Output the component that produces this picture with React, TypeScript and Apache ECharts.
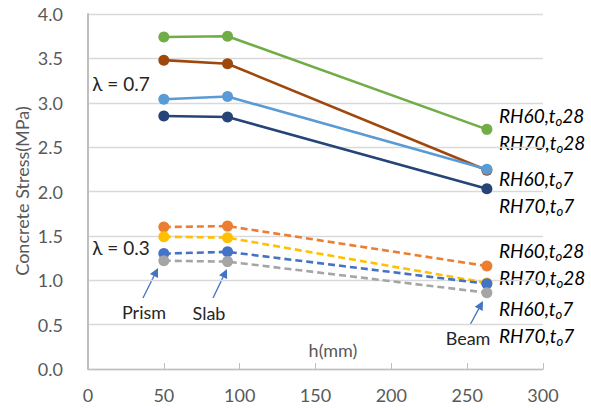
import React, { useEffect, useRef } from "react";
import * as echarts from "echarts";

const heights = [50, 92, 263];
const xTicks = { min: 0, max: 300, interval: 50 };
const yTicks = { min: 0, max: 4, interval: 0.5 };

const s07_RH60_28 = [3.74, 3.75, 2.7];
const s07_RH70_28 = [3.48, 3.44, 2.24];
const s07_RH60_7 = [3.04, 3.07, 2.25];
const s07_RH70_7 = [2.85, 2.84, 2.03];
const s03_RH60_28 = [1.6, 1.61, 1.16];
const s03_RH70_28 = [1.49, 1.48, 0.97];
const s03_RH60_7 = [1.3, 1.32, 0.96];
const s03_RH70_7 = [1.22, 1.21, 0.86];

const FONT = "Lato, 'Open Sans', sans-serif";

const seriesDefs = [
  { name: "λ0.7 RH60 t28", data: s07_RH60_28, color: "#70AD47", dashed: false },
  { name: "λ0.7 RH70 t28", data: s07_RH70_28, color: "#9E480E", dashed: false },
  { name: "λ0.7 RH60 t7", data: s07_RH60_7, color: "#5B9BD5", dashed: false },
  { name: "λ0.7 RH70 t7", data: s07_RH70_7, color: "#264478", dashed: false },
  { name: "λ0.3 RH60 t28", data: s03_RH60_28, color: "#ED7D31", dashed: true },
  { name: "λ0.3 RH70 t28", data: s03_RH70_28, color: "#FFC000", dashed: true },
  { name: "λ0.3 RH60 t7", data: s03_RH60_7, color: "#4472C4", dashed: true },
  { name: "λ0.3 RH70 t7", data: s03_RH70_7, color: "#A5A5A5", dashed: true },
];

const rightLabels = [
  { rh: "RH60", t: "28", y: 115 },
  { rh: "RH70", t: "28", y: 142 },
  { rh: "RH60", t: "7", y: 178 },
  { rh: "RH70", t: "7", y: 205 },
  { rh: "RH60", t: "28", y: 250 },
  { rh: "RH70", t: "28", y: 277 },
  { rh: "RH60", t: "7", y: 308 },
  { rh: "RH70", t: "7", y: 335 },
];

function arrow(x1: number, y1: number, x2: number, y2: number) {
  const dx = x2 - x1;
  const dy = y2 - y1;
  const len = Math.sqrt(dx * dx + dy * dy);
  const ux = dx / len;
  const uy = dy / len;
  const hl = 9;
  const hw = 4.5;
  const bx = x2 - ux * hl;
  const by = y2 - uy * hl;
  return [
    {
      type: "line",
      shape: { x1, y1, x2: bx, y2: by },
      style: { stroke: "#4472C4", lineWidth: 1.3 },
    },
    {
      type: "polygon",
      shape: {
        points: [
          [x2, y2],
          [bx - uy * hw, by + ux * hw],
          [bx + uy * hw, by - ux * hw],
        ],
      },
      style: { fill: "#4472C4" },
    },
  ];
}

export default function App() {
  const ref = useRef<HTMLDivElement>(null);
  useEffect(() => {
    if (!ref.current) return;
    const chart = echarts.init(ref.current, null, { renderer: "svg" });
    const textStyle = (text: string, x: number, y: number, size = 18) => ({
      type: "text",
      x,
      y,
      style: {
        text,
        fontFamily: FONT,
        fontSize: size,
        fill: "#262626",
        align: "center",
        verticalAlign: "middle",
      },
    });
    const graphics: any[] = [
      {
        type: "text",
        x: 22,
        y: 191,
        rotation: Math.PI / 2,
        style: {
          text: "Concrete Stress(MPa)",
          fontFamily: FONT,
          fontSize: 18,
          fill: "#595959",
          align: "center",
          verticalAlign: "middle",
        },
      },
      {
        type: "text",
        x: 333,
        y: 350,
        style: {
          text: "h(mm)",
          fontFamily: FONT,
          fontSize: 18,
          fill: "#595959",
          align: "center",
          verticalAlign: "middle",
        },
      },
      textStyle("λ = 0.7", 121, 83, 19),
      textStyle("λ = 0.3", 121, 247, 19),
      textStyle("Prism", 144, 312),
      textStyle("Slab", 209, 313),
      textStyle("Beam", 468, 338),
      ...arrow(143, 298, 158, 268),
      ...arrow(213, 298, 227, 269),
      ...arrow(470, 325, 483, 301),
      ...rightLabels.map((l) => ({
        type: "text",
        x: 499,
        y: l.y,
        style: {
          text: `{i|${l.rh},t}{s|o}{i|${l.t}}`,
          align: "left",
          verticalAlign: "middle",
          rich: {
            i: {
              fontFamily: FONT,
              fontStyle: "italic",
              fontSize: 19,
              lineHeight: 24,
              fill: "#000000",
            },
            s: {
              fontFamily: FONT,
              fontStyle: "italic",
              fontSize: 13,
              lineHeight: 11,
              verticalAlign: "bottom",
              fill: "#000000",
            },
          },
        },
      })),
    ];

    chart.setOption({
      animation: false,
      grid: { left: 88, right: 48, top: 14, bottom: 41, containLabel: false },
      xAxis: {
        type: "value",
        min: xTicks.min,
        max: xTicks.max,
        interval: xTicks.interval,
        axisLine: { show: true, lineStyle: { color: "#BFBFBF", width: 1.3 } },
        axisTick: { show: true, inside: true, length: 6, lineStyle: { color: "#BFBFBF" } },
        splitLine: { show: false },
        axisLabel: { fontFamily: FONT, fontSize: 18, color: "#595959", margin: 17 },
      },
      yAxis: {
        type: "value",
        min: yTicks.min,
        max: yTicks.max,
        interval: yTicks.interval,
        axisLine: { show: true, lineStyle: { color: "#BFBFBF", width: 2 } },
        axisTick: { show: false },
        splitLine: { show: true, lineStyle: { color: "#D9D9D9", width: 1.3 } },
        axisLabel: {
          fontFamily: FONT,
          fontSize: 18,
          color: "#595959",
          margin: 25,
          formatter: (v: number) => v.toFixed(1),
        },
      },
      series: seriesDefs.map((s) => ({
        name: s.name,
        type: "line",
        data: heights.map((h, i) => [h, s.data[i]]),
        symbol: "circle",
        symbolSize: 11,
        itemStyle: { color: s.color },
        lineStyle: {
          color: s.color,
          width: 2.6,
          type: s.dashed ? [7, 4] : "solid",
        },
      })),
      graphic: graphics,
    });
    return () => chart.dispose();
  }, []);
  return (
    <div
      ref={ref}
      style={{ position: "absolute", left: 0, top: 0, width: 591, height: 410 }}
    />
  );
}
